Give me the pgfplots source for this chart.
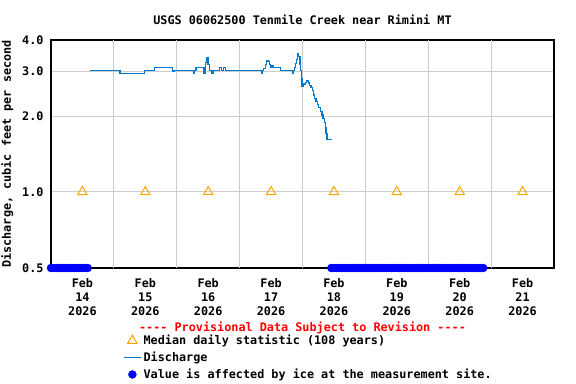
\documentclass[border=0pt]{standalone}
\usepackage{pgfplots}
\pgfplotsset{compat=1.18}
\usepackage{fontspec}
\setmonofont{DejaVu Sans Mono}
\definecolor{qblue}{RGB}{0,122,204}
\definecolor{iceblue}{RGB}{0,0,255}
\definecolor{medorange}{RGB}{255,165,0}
\definecolor{gridgray}{RGB}{204,204,204}
\newcommand{\uf}{\ttfamily\bfseries\fontsize{11.8bp}{14bp}\selectfont}
\begin{document}
\begin{tikzpicture}
\useasboundingbox (0bp,0bp) rectangle (576bp,384bp);
\begin{axis}[
 at={(51bp,116bp)}, anchor=south west,
 scale only axis, width=503bp, height=228bp,
 ymode=log, ymin=0.5, ymax=4,
 xmin=0, xmax=192,
 clip=false,
 /pgf/number format/assume math mode=true,
 tick label style={font=\uf},
 label style={font=\uf},
 title style={font=\uf, yshift=6bp},
 ytick={0.5,1,2,3,4}, yticklabels={0.5,1.0,2.0,3.0,4.0},
 yticklabel style={xshift=-4bp},
 xtick={12,36,60,84,108,132,156,180},
 xticklabels={{Feb\\14\\2026},{Feb\\15\\2026},{Feb\\16\\2026},{Feb\\17\\2026},{Feb\\18\\2026},{Feb\\19\\2026},{Feb\\20\\2026},{Feb\\21\\2026}},
 xticklabel style={align=center, yshift=-7bp},
 major tick length=0,
 ymajorgrids,
 extra x ticks={24,48,72,96,120,144,168},
 extra x tick labels={},
 extra x tick style={xmajorgrids},
 grid style={gridgray, line width=1bp},
 axis line style={line width=1.2bp},
 ylabel={Discharge, cubic feet per second},
 ylabel style={yshift=2bp},
 title={USGS 06062500 Tenmile Creek near Rimini MT},
 legend cell align=left,
 legend style={at={(0.143,-0.285)}, anchor=north west, draw=none, fill=none, font=\uf, row sep=1.8bp, inner sep=0pt},
]
\addplot[only marks, mark=triangle, mark size=5.5pt, medorange, mark options={line width=1bp}] coordinates {
 (12,1.0) (36,1.0) (60,1.0) (84,1.0) (108,1.0) (132,1.0) (156,1.0) (180,1.0)};
\addlegendentry{Median daily statistic (108 years)}
\addplot[const plot, qblue, line width=1.3bp, no marks,
  legend image code/.code={\draw[qblue, line width=1.5bp] (0bp,0bp) -- (17bp,0bp);}] coordinates {
 (14.9,3.03) (26.3,2.94) (35.7,3.03) (39.4,3.12) (46.4,3.00) (46.9,3.03)
 (54.5,2.95) (54.9,3.03) (55.4,3.12) (58.4,2.95) (58.9,3.25) (59.4,3.42)
 (59.9,3.2) (60.6,3.03) (61.2,2.96) (61.8,3.03) (64.4,3.12) (65.2,3.03)
 (65.9,3.12) (66.7,3.03) (80.3,2.95) (80.7,3.03) (81.2,3.08) (81.8,3.2)
 (82.2,3.31) (82.8,3.28) (83.4,3.2) (83.9,3.12) (84.3,3.18) (84.7,3.12)
 (87.5,3.03) (92.3,2.95) (92.6,3.03) (93.0,3.12) (93.3,3.22) (93.7,3.35)
 (94.0,3.54) (94.5,3.45) (95.0,3.2) (95.2,3.03) (95.5,2.8) (95.8,2.62)
 (96.2,2.68) (97.2,2.72) (97.5,2.75) (98.2,2.7) (98.7,2.64) (99.3,2.6)
 (99.7,2.52) (100.2,2.42) (100.7,2.35) (101.2,2.29) (101.7,2.22) (102.2,2.16)
 (102.8,2.09) (103.4,2.02) (103.8,1.95) (104.3,1.88) (104.7,1.8) (105.0,1.7)
 (105.4,1.61) (107.2,1.61)};
\addlegendentry{Discharge}
\addplot[only marks, mark=*, mark size=4bp, iceblue] coordinates {
 (0,0.5) (1,0.5) (2,0.5) (3,0.5) (4,0.5) (5,0.5) (6,0.5) (7,0.5) (8,0.5) (9,0.5)
 (10,0.5) (11,0.5) (12,0.5) (13,0.5) (14,0.5)
 (107,0.5) (108,0.5) (109,0.5) (110,0.5) (111,0.5) (112,0.5) (113,0.5) (114,0.5)
 (115,0.5) (116,0.5) (117,0.5) (118,0.5) (119,0.5) (120,0.5) (121,0.5) (122,0.5)
 (123,0.5) (124,0.5) (125,0.5) (126,0.5) (127,0.5) (128,0.5) (129,0.5) (130,0.5)
 (131,0.5) (132,0.5) (133,0.5) (134,0.5) (135,0.5) (136,0.5) (137,0.5) (138,0.5)
 (139,0.5) (140,0.5) (141,0.5) (142,0.5) (143,0.5) (144,0.5) (145,0.5) (146,0.5)
 (147,0.5) (148,0.5) (149,0.5) (150,0.5) (151,0.5) (152,0.5) (153,0.5) (154,0.5)
 (155,0.5) (156,0.5) (157,0.5) (158,0.5) (159,0.5) (160,0.5) (161,0.5) (162,0.5)
 (163,0.5) (164,0.5) (165,0.5)};
\addlegendentry{Value is affected by ice at the measurement site.}
\node[font=\uf, text=red] at (rel axis cs:0.5,-0.262) {---- Provisional Data Subject to Revision ----};
\end{axis}
\end{tikzpicture}
\end{document}
